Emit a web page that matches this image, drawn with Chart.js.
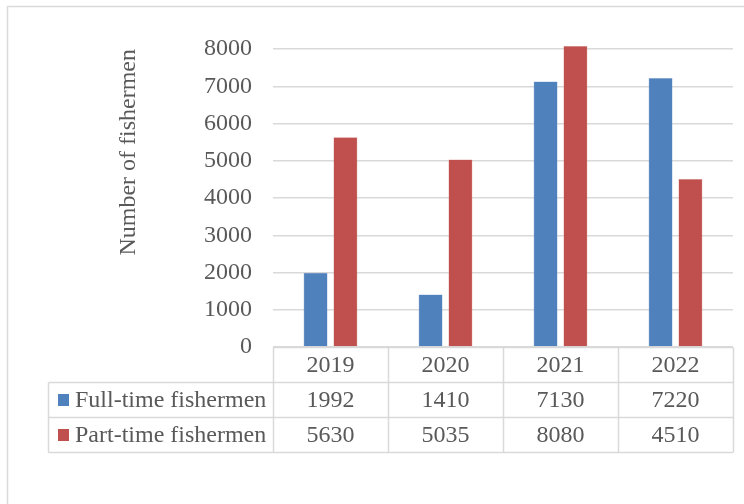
<!DOCTYPE html>
<html>
<head>
<meta charset="utf-8">
<script src="https://cdn.jsdelivr.net/npm/chart.js@4/dist/chart.umd.min.js"></script>
<style>
  html, body { margin: 0; padding: 0; background: #ffffff; }
  canvas { display: block; }
</style>
</head>
<body>
<canvas id="chart" width="744" height="504"></canvas>
<script>
// Fishermen counts by year
const years = ['2019', '2020', '2021', '2022'];
const fullTime = [1992, 1410, 7130, 7220];
const partTime = [5630, 5035, 8080, 4510];
const seriesNames = ['Full-time fishermen', 'Part-time fishermen'];
const seriesColors = ['#4f81bd', '#c0504d'];

const FONT = '"Liberation Serif", "Times New Roman", serif';
const FONT_SIZE = 24;
const TEXT = '#595959';
const LINE = '#d9d9d9';
const ROW_H = 35;

// Frame around the chart plus the data table beneath the plot
const tablePlugin = {
  id: 'dataTable',
  beforeDraw(chart) {
    const ctx = chart.ctx;
    ctx.save();
    ctx.strokeStyle = LINE;
    ctx.lineWidth = 1.5;
    ctx.beginPath();
    ctx.moveTo(7.5, chart.height + 2);
    ctx.lineTo(7.5, 6.5);
    ctx.lineTo(chart.width + 2, 6.5);
    ctx.stroke();
    ctx.restore();
  },
  afterDraw(chart) {
    const ctx = chart.ctx;
    const x = chart.scales.x;
    const y = chart.scales.y;
    const top = Math.round(y.getPixelForValue(0)) + 0.5;
    const left = x.left;
    const right = x.right;
    const colW = (right - left) / years.length;
    const tableLeft = 48.5;
    const rows = [fullTime, partTime];
    const bottom = top + (rows.length + 1) * ROW_H;

    ctx.save();
    ctx.strokeStyle = LINE;
    ctx.lineWidth = 1.5;
    ctx.beginPath();
    // header row (categories)
    ctx.moveTo(left, top); ctx.lineTo(right, top);
    // series rows
    for (let r = 1; r <= rows.length + 1; r++) {
      const yy = top + r * ROW_H;
      ctx.moveTo(tableLeft, yy); ctx.lineTo(right, yy);
    }
    for (let c = 0; c <= years.length; c++) {
      const xx = Math.round(left + c * colW) + 0.5;
      ctx.moveTo(xx, top); ctx.lineTo(xx, bottom);
    }
    ctx.moveTo(tableLeft, top + ROW_H); ctx.lineTo(tableLeft, bottom);
    ctx.stroke();

    ctx.fillStyle = TEXT;
    ctx.font = FONT_SIZE + 'px ' + FONT;
    ctx.textAlign = 'center';
    ctx.textBaseline = 'middle';
    years.forEach((yr, c) => {
      const cx = left + (c + 0.5) * colW;
      ctx.fillText(yr, cx, top + ROW_H / 2 + 1);
      rows.forEach((vals, r) => {
        ctx.fillText(String(vals[c]), cx, top + (r + 1.5) * ROW_H + 1);
      });
    });

    // series keys
    ctx.textAlign = 'left';
    rows.forEach((vals, r) => {
      const cy = top + (r + 1.5) * ROW_H;
      ctx.fillStyle = seriesColors[r];
      ctx.fillRect(58, cy - 6, 11, 12);
      ctx.fillStyle = TEXT;
      ctx.fillText(seriesNames[r], 75, cy + 1);
    });
    ctx.restore();
  }
};

new Chart(document.getElementById('chart'), {
  type: 'bar',
  data: {
    labels: years,
    datasets: [
      { label: seriesNames[0], data: fullTime, backgroundColor: seriesColors[0], borderColor: '#7fa3d3', borderWidth: 0.5, clip: false },
      { label: seriesNames[1], data: partTime, backgroundColor: seriesColors[1], borderColor: '#d98a88', borderWidth: 0.5, clip: false }
    ]
  },
  options: {
    responsive: false,
    animation: false,
    events: [],
    layout: { padding: { top: 49, right: 11, bottom: 157, left: 0 } },
    datasets: { bar: { categoryPercentage: 0.52, barPercentage: 0.8 } },
    plugins: { legend: { display: false }, tooltip: { enabled: false } },
    scales: {
      x: { display: false },
      y: {
        min: 0,
        max: 8000,
        ticks: {
          stepSize: 1000,
          color: TEXT,
          padding: 21,
          font: { family: FONT, size: FONT_SIZE },
          callback: (v) => String(v)
        },
        grid: { color: LINE, lineWidth: 1.5, drawTicks: false },
        border: { display: false },
        title: {
          display: true,
          text: 'Number of fishermen',
          align: 'end',
          color: TEXT,
          padding: { top: 114, bottom: 0 },
          font: { family: FONT, size: FONT_SIZE }
        },
        afterFit(scale) { scale.width = 273; }
      }
    }
  },
  plugins: [tablePlugin]
});
</script>
</body>
</html>
